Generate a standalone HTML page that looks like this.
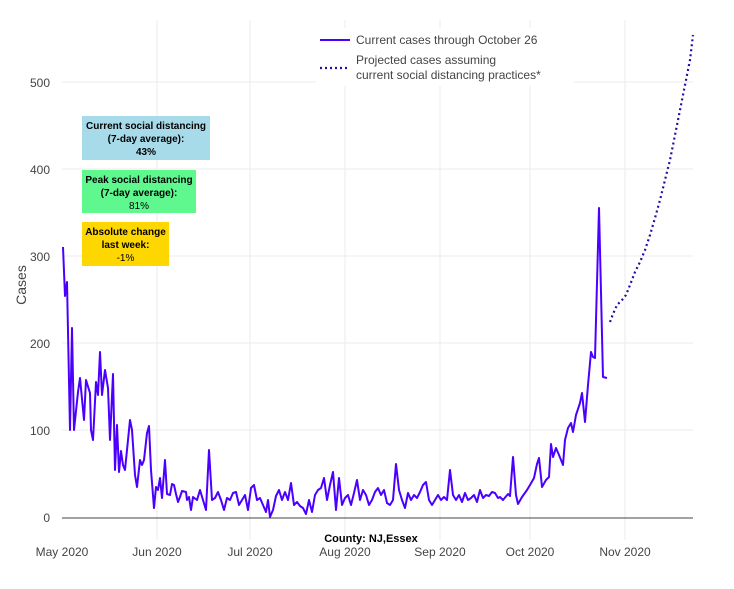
<!DOCTYPE html>
<html><head><meta charset="utf-8"><style>
body{margin:0;background:#fff}
svg text{font-family:"Liberation Sans",sans-serif}
</style></head><body>
<svg width="734" height="584" viewBox="0 0 734 584">
<g stroke="#ebebeb" stroke-width="1">
<line x1="62" x2="693" y1="82" y2="82"/><line x1="62" x2="693" y1="169" y2="169"/>
<line x1="62" x2="693" y1="256" y2="256"/><line x1="62" x2="693" y1="343" y2="343"/>
<line x1="62" x2="693" y1="430" y2="430"/>
<line x1="157" x2="157" y1="20" y2="540"/><line x1="250" x2="250" y1="20" y2="540"/>
<line x1="345" x2="345" y1="20" y2="540"/><line x1="440" x2="440" y1="20" y2="540"/>
<line x1="530" x2="530" y1="20" y2="540"/><line x1="625" x2="625" y1="20" y2="540"/>
</g>
<line x1="62" x2="693" y1="518" y2="518" stroke="#444" stroke-width="1"/>
<g font-size="12" fill="#444" text-anchor="end">
<text x="50" y="87">500</text><text x="50" y="174">400</text><text x="50" y="261">300</text>
<text x="50" y="348">200</text><text x="50" y="435">100</text><text x="50" y="522">0</text>
</g>
<g font-size="12" fill="#444" text-anchor="middle">
<text x="62" y="556">May 2020</text><text x="157" y="556">Jun 2020</text><text x="250" y="556">Jul 2020</text>
<text x="345" y="556">Aug 2020</text><text x="440" y="556">Sep 2020</text><text x="530" y="556">Oct 2020</text>
<text x="625" y="556">Nov 2020</text>
</g>
<text x="371" y="542" font-size="11" font-weight="bold" text-anchor="middle" fill="#000">County: NJ,Essex</text>
<text transform="translate(26,285) rotate(-90)" font-size="14" fill="#444" text-anchor="middle">Cases</text>
<polyline fill="none" stroke="#4b00ff" stroke-width="2" stroke-linejoin="round" points="
63,247 65,296 67,282 70,430 72,328 74,430 78,392 80,378 84,420 86,380 90,393 91,430 93,440 96,382 98,395 100,352 102,395 105,370 108,388 110,440 113,374 115,470 117,425 119,472 121,451 123,465 125,470 128,440 130,420 132,430 135,475 137,487 140,460 142,465 144,460 147,433 149,426 151,470 154,508 156,487 158,490 160,478 162,498 165,460 167,494 170,495 172,484 174,485 176,494 178,502 180,497 182,491 186,492 187,500 189,497 191,510 193,497 197,500 200,490 203,500 206,510 209,450 212,500 215,498 218,492 221,500 224,510 227,498 230,500 233,493 236,492 239,505 242,500 245,495 248,510 251,488 254,485 257,500 260,498 263,505 266,512 268,500 270,517 273,510 276,496 279,490 282,500 285,492 288,500 291,483 294,505 297,502 300,506 303,508 306,514 309,500 312,512 315,495 318,490 321,488 324,478 327,500 330,485 333,472 336,510 339,478 342,505 345,498 348,495 351,505 354,493 357,480 360,500 363,490 366,495 369,505 372,500 375,492 378,488 381,495 384,490 387,503 390,505 393,500 396,464 399,490 402,500 405,508 408,493 411,500 414,495 417,498 420,492 423,485 426,482 429,500 432,505 435,500 438,495 441,500 444,497 447,500 450,470 453,495 456,500 459,495 462,502 465,493 468,500 471,498 474,495 477,502 480,490 483,498 486,495 489,496 492,492 495,493 498,498 500,497 503,500 508,494 510,496 513,457 516,495 518,504 522,497 527,490 530,485 534,478 537,464 539,458 542,487 546,480 549,477 551,444 553,457 556,448 559,455 563,465 565,440 568,428 571,423 573,432 576,415 580,403 582,393 585,422 588,385 591,352 593,357 595,358 599,208 603,377 607,378"/>
<polyline fill="none" stroke="#2a0aa6" stroke-width="2.2" stroke-dasharray="2,3" points="610,322 613,314 617,305 622,300 626,295 630,285 635,272 640,262 645,250 650,235 655,218 660,200 665,180 670,160 675,135 680,110 685,85 690,60 693,35"/>
<rect x="316" y="28" width="258" height="58" fill="#fff"/>
<line x1="320" x2="350" y1="40" y2="40" stroke="#4b00ff" stroke-width="2"/>
<line x1="320" x2="350" y1="68" y2="68" stroke="#2a0aa6" stroke-width="2.2" stroke-dasharray="2,3"/>
<g font-size="12" fill="#444">
<text x="356" y="44">Current cases through October 26</text>
<text x="356" y="64">Projected cases assuming</text>
<text x="356" y="79">current social distancing practices*</text>
</g>
<rect x="82" y="116" width="128" height="44" fill="#a8dbea"/>
<rect x="82" y="170" width="114" height="43" fill="#5ef88f"/>
<rect x="82" y="222" width="87" height="44" fill="#ffd700"/>
<g font-size="10" fill="#000" text-anchor="middle">
<text x="146" y="129" font-weight="bold">Current social distancing</text>
<text x="146" y="142" font-weight="bold">(7-day average):</text>
<text x="146" y="155" font-weight="bold">43%</text>
<text x="139" y="183" font-weight="bold">Peak social distancing</text>
<text x="139" y="196" font-weight="bold">(7-day average):</text>
<text x="139" y="209">81%</text>
<text x="125.5" y="235" font-weight="bold">Absolute change</text>
<text x="125.5" y="248" font-weight="bold">last week:</text>
<text x="125.5" y="261">-1%</text>
</g>
</svg>
</body></html>
